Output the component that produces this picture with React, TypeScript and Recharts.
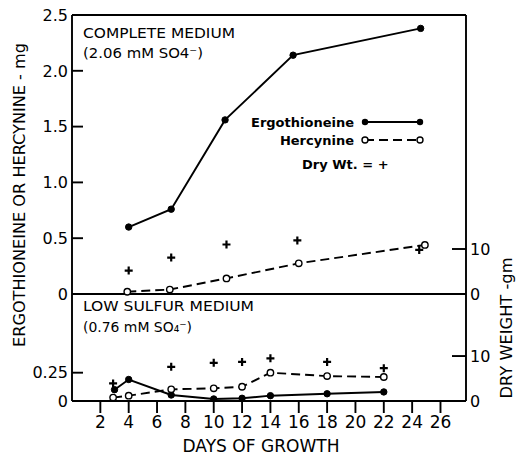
import React from 'react';
import { ComposedChart, Line, Scatter, XAxis, YAxis, ReferenceLine } from 'recharts';

const FONT = '"DejaVu Sans", sans-serif';

// complete medium (2.06 mM SO4)
const completeErgoDays = [4, 7, 10.8, 15.6, 24.6];
const completeErgo = [0.6, 0.76, 1.56, 2.14, 2.38];
const completeHercDays = [3.9, 6.9, 10.9, 16, 24.9];
const completeHerc = [0.02, 0.04, 0.14, 0.275, 0.44];
const completeDryDays = [4, 7, 10.9, 15.9, 24.5];
const completeDry = [5.2, 8.1, 11.0, 11.9, 9.8];

// low sulfur medium (0.76 mM SO4)
const lowErgoDays = [3, 4, 7, 10, 12, 14, 18, 22];
const lowErgo = [0.1, 0.19, 0.053, 0.018, 0.024, 0.047, 0.064, 0.08];
const lowHercDays = [2.9, 4, 7, 10, 12, 14, 18, 22];
const lowHerc = [0.03, 0.047, 0.103, 0.112, 0.126, 0.25, 0.22, 0.212];
const lowDryDays = [2.9, 7, 10, 12, 14, 18, 22];
const lowDry = [3.9, 7.6, 8.5, 8.7, 9.5, 8.7, 7.3];

const dayTicks = [2, 4, 6, 8, 10, 12, 14, 16, 18, 20, 22, 24, 26];
const topLeftTicks = [0, 0.5, 1, 1.5, 2, 2.5];
const bottomLeftTicks = [0, 0.25];
const dryTicks = [0, 10];

const pairs = (days: number[], vals: number[]) => days.map((day, i) => ({ day, v: vals[i] }));

const DAY_DOMAIN: [number, number] = [0, 27.8];
const W = 1.9;

const filledDot = { r: 3.2, fill: '#000', stroke: '#000', strokeWidth: 1, strokeDasharray: 'none' };
const openDot = { r: 3.2, fill: '#fff', stroke: '#000', strokeWidth: 1.4, strokeDasharray: 'none' };

const Plus = (p: any) => {
  const { cx, cy } = p;
  return <path d={`M${cx - 4},${cy}H${cx + 4}M${cx},${cy - 4}V${cy + 4}`} stroke="#000" strokeWidth={2.2} />;
};

const leftTick = (fmt: (v: number) => string) => (p: any) => (
  <g>
    <line x1={p.x + 4} x2={p.x + 15} y1={p.y} y2={p.y} stroke="#000" strokeWidth={W} />
    <text x={p.x} y={p.y} dy="0.36em" textAnchor="end" fontSize={16} fontFamily={FONT} fill="#000">
      {fmt(p.payload.value)}
    </text>
  </g>
);

const rightTick = (p: any) => (
  <g>
    <line x1={p.x - 18} x2={p.x - 4} y1={p.y} y2={p.y} stroke="#000" strokeWidth={W} />
    <text x={p.x} y={p.y} dy="0.36em" textAnchor="start" fontSize={16} fontFamily={FONT} fill="#000">
      {p.payload.value}
    </text>
  </g>
);

const fmtTop = (v: number) => (v === 0 ? '0' : v.toFixed(1));
const fmtBottom = (v: number) => (v === 0 ? '0' : String(v));

export default function App() {
  return (
    <div style={{ position: 'absolute', left: 0, top: 0, width: 517, height: 457, background: '#fff' }}>
      <div style={{ position: 'absolute', left: 0, top: 0 }}>
        <ComposedChart width={517} height={310} margin={{ top: 15, right: 6, bottom: 16, left: 22 }}>
          <XAxis type="number" dataKey="day" domain={DAY_DOMAIN} hide allowDataOverflow />
          <YAxis yAxisId="left" domain={[0, 2.5]} ticks={topLeftTicks} interval={0} width={50}
            tickLine={false} tickSize={0} tickMargin={4} axisLine={{ stroke: '#000', strokeWidth: W }}
            tick={leftTick(fmtTop)} />
          <YAxis yAxisId="right" orientation="right" domain={[0, 62]} ticks={dryTicks} interval={0} width={45}
            tickLine={false} tickSize={0} tickMargin={4} axisLine={{ stroke: '#000', strokeWidth: W }}
            tick={rightTick} />
          <ReferenceLine yAxisId="left" y={2.5} stroke="#000" strokeWidth={W} />
          <ReferenceLine yAxisId="left" y={0} stroke="#000" strokeWidth={W} />
          <Line yAxisId="left" data={pairs(completeErgoDays, completeErgo)} dataKey="v" stroke="#000"
            strokeWidth={W} dot={filledDot} isAnimationActive={false} />
          <Line yAxisId="left" data={pairs(completeHercDays, completeHerc)} dataKey="v" stroke="#000"
            strokeWidth={W} strokeDasharray="9 5" dot={openDot} isAnimationActive={false} />
          <Scatter yAxisId="right" data={pairs(completeDryDays, completeDry)} dataKey="v" shape={Plus}
            isAnimationActive={false} />
        </ComposedChart>
      </div>
      <div style={{ position: 'absolute', left: 0, top: 280 }}>
        <ComposedChart width={517} height={177} margin={{ top: 14, right: 6, bottom: 0, left: 22 }}>
          <XAxis type="number" dataKey="day" domain={DAY_DOMAIN} ticks={dayTicks} interval={0} height={56}
            allowDataOverflow tickSize={12} tickMargin={3}
            tickLine={{ stroke: '#000', strokeWidth: W }} axisLine={{ stroke: '#000', strokeWidth: W }}
            tick={{ fontSize: 17, fill: '#000', fontFamily: FONT }} />
          <YAxis yAxisId="left" domain={[0, 0.945]} ticks={bottomLeftTicks} interval={0} width={50}
            tickLine={false} tickSize={0} tickMargin={4} axisLine={{ stroke: '#000', strokeWidth: W }}
            tick={leftTick(fmtBottom)} allowDataOverflow />
          <YAxis yAxisId="right" orientation="right" domain={[0, 23.8]} ticks={dryTicks} interval={0} width={45}
            tickLine={false} tickSize={0} tickMargin={4} axisLine={{ stroke: '#000', strokeWidth: W }}
            tick={rightTick} allowDataOverflow />
          <Line yAxisId="left" data={pairs(lowErgoDays, lowErgo)} dataKey="v" stroke="#000"
            strokeWidth={W} dot={filledDot} isAnimationActive={false} />
          <Line yAxisId="left" data={pairs(lowHercDays, lowHerc)} dataKey="v" stroke="#000"
            strokeWidth={W} strokeDasharray="9 5" dot={openDot} isAnimationActive={false} />
          <Scatter yAxisId="right" data={pairs(lowDryDays, lowDry)} dataKey="v" shape={Plus}
            isAnimationActive={false} />
        </ComposedChart>
      </div>
      <svg width={517} height={457} style={{ position: 'absolute', left: 0, top: 0, pointerEvents: 'none' }}
        fontFamily={FONT} fill="#000">
        <text x={83} y={38} fontSize={14} textLength={152} lengthAdjust="spacingAndGlyphs">COMPLETE MEDIUM</text>
        <text x={83} y={58} fontSize={14} textLength={120} lengthAdjust="spacingAndGlyphs">(2.06 mM SO4⁻)</text>
        <text x={83} y={311} fontSize={14} textLength={171} lengthAdjust="spacingAndGlyphs">LOW SULFUR MEDIUM</text>
        <text x={83} y={332} fontSize={14} textLength={109} lengthAdjust="spacingAndGlyphs">(0.76 mM SO₄⁻)</text>

        <text x={354} y={127} fontSize={13} fontWeight="bold" textAnchor="end">Ergothioneine</text>
        <line x1={365} x2={420} y1={122} y2={122} stroke="#000" strokeWidth={W} />
        <circle cx={365} cy={122} r={3.2} fill="#000" />
        <circle cx={420} cy={122} r={3.2} fill="#000" />
        <text x={354} y={145} fontSize={13} fontWeight="bold" textAnchor="end">Hercynine</text>
        <line x1={365} x2={420} y1={140} y2={140} stroke="#000" strokeWidth={W} strokeDasharray="9 5" />
        <circle cx={365} cy={140} r={3} fill="#fff" stroke="#000" strokeWidth={1.4} />
        <circle cx={420} cy={140} r={3} fill="#fff" stroke="#000" strokeWidth={1.4} />
        <text x={302} y={169} fontSize={13} fontWeight="bold">Dry Wt. = +</text>

        <text transform="translate(25,195) rotate(-90)" textAnchor="middle" fontSize={16}
          textLength={304} lengthAdjust="spacingAndGlyphs">ERGOTHIONEINE OR HERCYNINE - mg</text>
        <text transform="translate(512,328) rotate(-90)" textAnchor="middle" fontSize={16}
          textLength={141} lengthAdjust="spacingAndGlyphs">DRY WEIGHT -gm</text>
        <text x={261} y={452} textAnchor="middle" fontSize={17} textLength={157}
          lengthAdjust="spacingAndGlyphs">DAYS OF GROWTH</text>
      </svg>
    </div>
  );
}
